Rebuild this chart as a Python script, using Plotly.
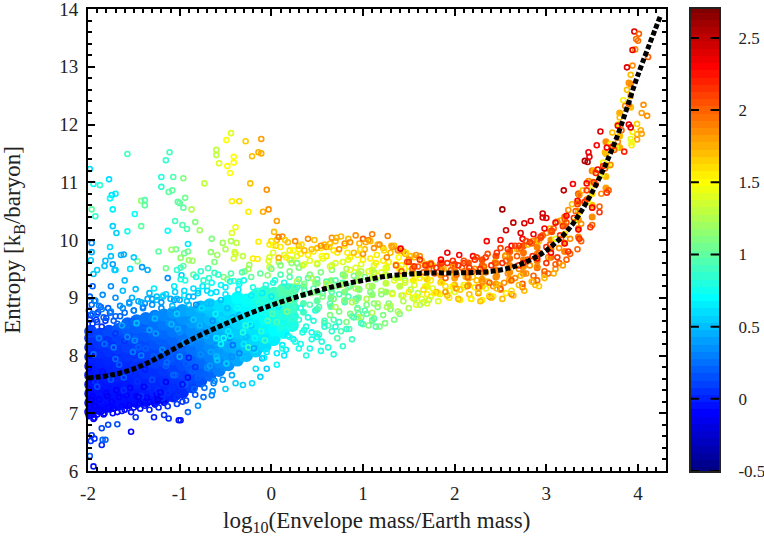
import numpy as np
import plotly.graph_objects as go

# mean profile
curve_x = [-2, -1.75, -1.5, -1.25, -1, -0.75, -0.5, -0.25, 0, 0.25, 0.5, 0.75, 1, 1.25, 1.5, 1.75, 2, 2.25,
           2.5, 2.75, 3, 3.25, 3.5, 3.75, 4, 4.25]
curve_y = [7.61, 7.66, 7.77, 7.95, 8.17, 8.37, 8.55, 8.72, 8.87, 9.0, 9.12, 9.22, 9.3, 9.37, 9.41, 9.43, 9.43,
           9.44, 9.48, 9.6, 9.82, 10.2, 10.83, 11.7, 12.86, 13.9]

x_ticks = [-2, -1, 0, 1, 2, 3, 4]
x_labels = ['-2', '-1', '0', '1', '2', '3', '4']
y_ticks = [6, 7, 8, 9, 10, 11, 12, 13, 14]
bar_ticks = [-0.5, 0, 0.5, 1, 1.5, 2, 2.5]
bar_labels = ['-0.5', '0', '0.5', '1', '1.5', '2', '2.5']

# dense part of the cloud, read column by column
core_x = [-1.97, -1.87, -1.77, -1.67, -1.57, -1.47, -1.37, -1.27, -1.17, -1.07, -0.97, -0.87, -0.77, -0.67,
          -0.57, -0.47, -0.37, -0.27, -0.17, -0.07, 0.03, 0.13, 0.23]
core_y = [
    [7.02, 7.18, 7.34, 7.5, 7.66, 7.82, 7.98, 8.14, 8.3, 8.42],
    [7.08, 7.25, 7.41, 7.57, 7.73, 7.89, 8.05, 8.21, 8.37],
    [7.12, 7.28, 7.44, 7.6, 7.76, 7.92, 8.08, 8.24, 8.42],
    [7.16, 7.33, 7.49, 7.65, 7.81, 7.97, 8.13, 8.29, 8.45],
    [7.18, 7.35, 7.51, 7.67, 7.83, 7.99, 8.15, 8.31, 8.47, 8.55],
    [7.2, 7.36, 7.52, 7.68, 7.84, 8.0, 8.16, 8.32, 8.48, 8.6],
    [7.22, 7.38, 7.54, 7.7, 7.86, 8.02, 8.18, 8.34, 8.5, 8.64],
    [7.23, 7.4, 7.56, 7.72, 7.88, 8.04, 8.2, 8.36, 8.52, 8.68],
    [7.26, 7.42, 7.58, 7.74, 7.9, 8.06, 8.22, 8.38, 8.54, 8.7],
    [7.3, 7.46, 7.62, 7.78, 7.94, 8.1, 8.26, 8.42, 8.58, 8.74],
    [7.36, 7.52, 7.68, 7.84, 8.0, 8.16, 8.32, 8.48, 8.64, 8.78],
    [7.46, 7.62, 7.78, 7.94, 8.1, 8.26, 8.42, 8.58, 8.74],
    [7.56, 7.72, 7.88, 8.04, 8.2, 8.36, 8.52, 8.68, 8.84],
    [7.66, 7.82, 7.98, 8.14, 8.3, 8.46, 8.62, 8.78, 8.88],
    [7.74, 7.9, 8.06, 8.22, 8.38, 8.54, 8.7, 8.86],
    [7.84, 8.0, 8.16, 8.32, 8.48, 8.64, 8.8, 8.94],
    [7.92, 8.08, 8.24, 8.4, 8.56, 8.72, 8.88, 9.0],
    [8.0, 8.16, 8.32, 8.48, 8.64, 8.8, 8.96],
    [8.08, 8.24, 8.4, 8.56, 8.72, 8.88, 9.04],
    [8.16, 8.32, 8.48, 8.64, 8.8, 8.96, 9.1],
    [8.28, 8.44, 8.6, 8.76, 8.92, 9.08],
    [8.4, 8.56, 8.72, 8.88, 9.04, 9.14],
    [8.52, 8.68, 8.84, 9.0, 9.14],
]
core_c = [
    [-0.08, -0.08, -0.06, -0.05, -0.03, -0.02, 0.0, 0.03, 0.06, 0.1],
    [-0.08, -0.06, -0.05, -0.03, -0.02, 0.0, 0.03, 0.06, 0.1],
    [-0.07, -0.06, -0.04, -0.02, 0.0, 0.02, 0.05, 0.08, 0.13],
    [-0.06, -0.05, -0.03, 0.0, 0.02, 0.04, 0.07, 0.1, 0.16],
    [-0.06, -0.04, -0.02, 0.0, 0.03, 0.06, 0.09, 0.13, 0.18, 0.22],
    [-0.05, -0.03, 0.0, 0.02, 0.05, 0.08, 0.11, 0.15, 0.2, 0.25],
    [-0.04, -0.02, 0.0, 0.04, 0.07, 0.1, 0.13, 0.17, 0.22, 0.27],
    [-0.03, 0.0, 0.02, 0.05, 0.09, 0.12, 0.16, 0.2, 0.25, 0.3],
    [-0.02, 0.01, 0.04, 0.07, 0.11, 0.15, 0.19, 0.23, 0.28, 0.33],
    [0.0, 0.03, 0.06, 0.1, 0.14, 0.18, 0.22, 0.27, 0.32, 0.37],
    [0.03, 0.06, 0.1, 0.14, 0.18, 0.22, 0.26, 0.31, 0.36, 0.41],
    [0.1, 0.13, 0.17, 0.21, 0.25, 0.29, 0.34, 0.39, 0.44],
    [0.15, 0.19, 0.23, 0.27, 0.31, 0.35, 0.4, 0.45, 0.5],
    [0.22, 0.26, 0.3, 0.34, 0.38, 0.42, 0.47, 0.52, 0.56],
    [0.3, 0.34, 0.38, 0.42, 0.46, 0.5, 0.55, 0.6],
    [0.36, 0.4, 0.44, 0.48, 0.52, 0.56, 0.6, 0.65],
    [0.42, 0.46, 0.5, 0.54, 0.58, 0.62, 0.66, 0.7],
    [0.48, 0.52, 0.56, 0.6, 0.64, 0.68, 0.72],
    [0.54, 0.58, 0.62, 0.66, 0.7, 0.74, 0.78],
    [0.6, 0.64, 0.68, 0.72, 0.76, 0.8, 0.85],
    [0.66, 0.7, 0.74, 0.78, 0.82, 0.88],
    [0.72, 0.76, 0.8, 0.85, 0.9, 0.95],
    [0.78, 0.82, 0.88, 0.93, 0.98],
]

# busy middle and right of the cloud
mid_x = [0.35, 0.5, 0.65, 0.8, 0.95, 1.1, 1.25, 1.4, 1.55, 1.7, 1.85, 2.0, 2.15, 2.3, 2.45, 2.6, 2.75, 2.9, 3.05, 3.2,
         3.35, 3.5, 3.65, 3.8, 3.92]
mid_y = [
    [8.75, 8.9, 9.05, 9.2], [8.8, 8.95, 9.1, 9.25], [8.85, 9.0, 9.15, 9.3], [8.95, 9.1, 9.25, 9.38],
    [9.0, 9.15, 9.3, 9.42], [9.05, 9.2, 9.35, 9.48], [9.1, 9.25, 9.4, 9.52], [9.2, 9.35, 9.5],
    [9.3, 9.42, 9.54], [9.2, 9.32, 9.44, 9.56], [9.27, 9.39, 9.51, 9.6], [9.22, 9.34, 9.46, 9.58],
    [9.22, 9.34, 9.46, 9.6], [9.2, 9.32, 9.44, 9.56, 9.66], [9.24, 9.36, 9.48, 9.6, 9.72],
    [9.32, 9.44, 9.56, 9.68, 9.8], [9.42, 9.54, 9.66, 9.78, 9.9], [9.52, 9.64, 9.76, 9.88, 10.0],
    [9.7, 9.85, 10.0, 10.15], [9.8, 9.95, 10.1, 10.25, 10.4], [10.05, 10.2, 10.35, 10.5, 10.65, 10.8],
    [10.4, 10.6, 10.8, 11.0, 11.2], [10.9, 11.1, 11.3, 11.5, 11.7], [11.6, 11.8, 12.0, 12.2], [12.3, 12.5, 12.7],
]
mid_c = [
    [0.9, 0.95, 1.0, 1.0], [0.95, 1.0, 1.05, 1.1], [1.0, 1.05, 1.1, 1.15], [1.05, 1.1, 1.15, 1.2],
    [1.1, 1.15, 1.2, 1.25], [1.15, 1.2, 1.3, 1.35], [1.2, 1.3, 1.35, 1.45], [1.3, 1.4, 1.55],
    [1.55, 1.7, 1.9], [1.55, 1.65, 1.85, 2.0], [1.7, 1.8, 2.0, 2.05], [1.7, 1.8, 1.95, 2.05],
    [1.75, 1.8, 1.95, 2.05], [1.75, 1.8, 1.9, 2.0, 2.05], [1.8, 1.85, 1.9, 1.95, 2.05],
    [1.85, 1.85, 1.9, 1.95, 2.05], [1.9, 1.85, 1.9, 1.95, 2.05], [1.95, 1.9, 1.85, 1.9, 2.0],
    [1.95, 1.9, 1.85, 1.95], [1.9, 1.8, 1.8, 1.9, 2.0], [1.9, 1.85, 1.8, 1.75, 1.9, 2.0],
    [1.85, 1.7, 1.6, 1.75, 1.9], [1.8, 1.7, 1.6, 1.7, 1.85], [1.75, 1.7, 1.6, 1.75], [1.7, 1.75, 1.85],
]

# rings seen inside the dense part, they give it its mottled look
speck_x = [-1.94, -1.84, -1.72, -1.61, -1.49, -1.38, -1.26, -1.14, -1.02, -0.9, -0.78, -0.66, -0.54, -0.42, -0.3, -0.18, -0.06, 0.06,
           -1.9, -1.79, -1.66, -1.54, -1.42, -1.3, -1.19, -1.07, -0.95, -0.83, -0.71, -0.59, -0.47, -0.35, -0.23, -0.11, 0.01,
           -1.96, -1.82, -1.69, -1.57, -1.45, -1.33, -1.21, -1.09, -0.97, -0.85, -0.73, -0.61, -0.49, -0.37, -0.25, -0.13, 0.11,
           -1.88, -1.75, -1.63, -1.51, -1.39, -1.27, -1.15, -1.03, -0.91, -0.79, -0.67, -0.55, -0.43, -0.31, -0.19, -0.07, 0.17,
           -1.92, -1.7, -1.47, -1.24, -1.0, -0.76, -0.52, -0.28, -0.04, 0.2]
speck_y = [8.02, 7.72, 8.14, 7.62, 8.26, 7.76, 8.38, 7.88, 8.46, 7.96, 8.52, 8.06, 8.62, 8.18, 8.72, 8.3, 8.82, 8.58,
           7.46, 7.3, 7.84, 7.44, 8.0, 7.58, 8.1, 7.66, 8.22, 7.8, 8.34, 7.92, 8.42, 8.04, 8.54, 8.42, 8.72,
           7.22, 8.2, 7.4, 8.32, 7.28, 8.44, 7.36, 8.54, 7.5, 8.62, 7.68, 8.72, 7.86, 8.82, 8.14, 8.9, 8.92,
           8.3, 7.58, 8.52, 8.06, 7.46, 8.64, 7.54, 8.72, 7.62, 8.14, 7.82, 8.2, 7.98, 8.4, 8.12, 8.26, 8.76,
           7.12, 7.94, 8.56, 7.24, 7.98, 8.82, 8.3, 8.52, 8.6, 8.96]
speck_c = [0.25, -0.05, 0.3, 0.2, 0.35, -0.02, 0.4, 0.25, 0.45, 0.0, 0.5, 0.42, 0.6, 0.25, 0.65, 0.7, 0.75, 0.95,
           0.15, -0.15, 0.2, -0.1, 0.3, 0.15, 0.35, 0.22, 0.4, 0.05, 0.45, 0.55, 0.65, 0.3, 0.7, 0.85, 0.95,
           -0.18, 0.25, -0.12, 0.35, -0.15, 0.4, -0.1, 0.48, -0.05, 0.55, 0.2, 0.68, 0.55, 0.72, 0.85, 0.85, 1.05,
           0.28, 0.18, 0.42, 0.3, -0.12, 0.48, -0.12, 0.55, -0.08, 0.3, 0.4, 0.72, 0.35, 0.8, 0.4, 0.9, 1.1,
           -0.15, 0.25, 0.5, -0.18, 0.4, 0.62, 0.75, 0.85, 0.95, 1.1]

# sparse points read one at a time
single_x = [-1.57, -1.11, -1.15, -0.44, -0.49, -0.28, -0.11, -0.14, -0.11, -0.21, -0.6, -0.6, -0.41, -0.41, -0.57,
            -0.48, -0.45, -0.23, -0.05, -0.73, -0.96, -1.07, -1.2, -1.2, -1.12, -1.08, -0.94, -1.02, -1.0, -0.96,
            -0.87, -1.42, -1.38, -1.38, -0.43, -0.35, -0.25, -0.09, -0.03, 0.06, -1.49, -1.73, -1.96, -1.92, -1.98,
            -1.94, -1.87, -1.77, -1.7, -1.74, -1.76, -1.73, -1.69, -1.57, -1.42, -1.13, -1.05, -0.97, -0.92, -0.83,
            -0.78, -0.39, -0.43, -0.65, -0.44, -0.38, -0.53, -0.14, 0.0, 0.02, 0.05, 0.03, 0.08, -0.91, -1.04, -1.09,
            -1.23, -0.91, -0.95, -0.99, -0.9, -0.86, -0.66, -0.59, -0.62, -0.5, -0.4, -0.39, -0.41, -0.31, -0.2,
            -0.15, -0.02, -0.03, -0.02, 0.08, -0.24, -0.25, -0.29, -1.46, -1.5, -1.61, -1.64, -1.75, -1.76, -1.81,
            -1.82, -1.73, -1.96, -1.96, -1.97, -1.94, -1.9, -1.71, -1.7, -1.54, -1.41, -1.35, -1.15, -1.03, -0.99,
            -0.96, -0.85, -0.77, -0.69, -0.62, -1.13, -0.98, -0.99, -0.74, -0.7, -0.52, -0.48, -0.41, -0.04,
            -1.53, -1.85, -1.84, -1.81, -1.94, -1.98, -1.93, -1.97, -1.96, -1.01, -0.99, -1.12, -1.17, -1.28, -1.48,
            -1.68, -1.78, -1.85, -0.91, -0.8, -0.74, -0.65, -0.64, -0.5, -0.39, -0.31, -0.21, -0.12, -0.05, -0.17, 0.06,
            2.52, 2.64, 2.76, 2.83, 2.56, 2.72, 2.96, 2.96, 3.0, 3.19, 3.29, 3.42, 3.45, 3.46, 3.47, 3.59, 3.55, 3.88,
            3.96, 4.01, 3.94, 3.98, 4.0, 4.11, 4.06, 4.04, 4.1, 3.99, 4.03, 4.04, 3.99, 3.99, 3.94, 3.92, 3.93, 3.93,
            3.85, 3.9, 3.92, 1.41, 1.92, 1.1, 1.0, 1.27,
            # extra fuzz over and under the dense part
            -1.98, -1.95, -1.9, -1.85, -1.8, -1.75, -1.7, -1.65, -1.6, -1.55, -1.5, -1.45, -1.4, -1.35, -1.3, -1.25, -1.2,
            -1.15, -1.1, -1.05, -1.0, -0.95, -0.9, -0.85, -0.8, -0.75, -0.7, -0.65, -0.6, -0.55, -0.5, -0.45, -0.35, -0.3,
            -1.93, -1.83, -1.73, -1.63, -1.53, -1.43, -1.33, -1.23, -1.13, -1.03, -0.93, -0.83, -0.73, -0.63, -0.53, -0.43,
            -1.88, -1.62, -1.52, -1.42, -1.28, -1.18, -1.06, -0.94, -0.82, -0.68, -0.58, -0.44, -0.32, -0.22, -0.12, 0.0, 0.1, 0.22,
            0.3, 0.38, 0.44, 0.5, 0.58, 0.66, 0.74, 0.82, 0.9, 0.98, 1.04, 1.12, 0.32, 0.42, 0.54, 0.68, 0.78, 0.88,
            0.15, 0.24, 0.33, 0.47, 0.55, 0.63, 0.71, 0.83, 0.97, 1.03, 1.15, 1.23, 1.31, 1.39, 1.47,
            1.5, 1.58, 1.66, 1.78, 1.9, 2.06, 2.18, 2.26, 2.38, 2.46, 2.62, 2.7, 2.84, 2.92, 2.98, 3.08, 3.18,
            2.1, 2.24, 2.36, 2.5, 2.66, 2.78, 2.94, 3.06, 3.22, 3.34, 3.44, 3.54]
single_y = [11.49, 11.52, 11.38, 11.85, 11.73, 11.71, 11.75, 11.52, 11.5, 11.45, 11.56, 11.47, 11.44, 11.34, 11.33,
            11.28, 11.16, 10.98, 10.87, 10.98, 11.07, 11.09, 11.09, 10.92, 10.83, 10.86, 10.73, 10.66, 10.64, 10.56,
            10.53, 10.68, 10.69, 10.6, 10.67, 10.67, 10.49, 10.49, 10.53, 10.33, 10.45, 10.53, 10.53, 10.41, 11.23,
            10.97, 10.95, 11.05, 10.8, 10.78, 10.72, 10.24, 10.12, 10.15, 10.24, 10.16, 10.33, 10.26, 10.19, 10.31,
            10.17, 10.22, 10.12, 10.02, 9.98, 9.95, 9.95, 9.97, 9.98, 9.91, 9.9, 10.14, 10.05, 9.93, 9.84, 9.83,
            9.8, 9.8, 9.77, 9.69, 9.65, 9.64, 9.79, 9.74, 9.62, 9.84, 9.79, 9.76, 9.68, 9.72, 9.68,
            9.67, 9.7, 9.64, 9.53, 9.69, 9.57, 9.5, 9.46, 9.63, 9.7, 9.75, 9.74, 9.72, 9.88, 9.64,
            9.55, 9.58, 9.95, 9.79, 9.65, 9.41, 9.48, 9.48, 9.48, 9.5, 9.53, 9.48, 9.51, 9.48, 9.52,
            9.55, 9.4, 9.46, 9.51, 9.43, 9.34, 9.39, 9.32, 9.3, 9.2, 9.36, 9.32, 9.29, 9.39,
            6.68, 6.45, 6.54, 6.54, 6.08, 6.26, 6.56, 6.52, 6.62, 6.88, 6.88, 6.91, 6.97, 6.93, 6.93,
            6.81, 6.8, 6.74, 7.02, 7.13, 7.28, 7.31, 7.38, 7.42, 7.52, 7.49, 7.52, 7.63, 7.77, 7.77, 7.84,
            10.53, 10.3, 10.29, 10.33, 10.17, 10.12, 10.46, 10.39, 10.38, 10.86, 10.97, 11.37, 11.35, 11.52, 11.44, 11.88, 11.64, 12.99,
            13.61, 13.57, 13.29, 13.48, 13.45, 13.17, 12.34, 12.2, 12.15, 12.01, 11.9, 11.84, 11.83, 11.74, 11.87, 11.75, 11.69, 11.64,
            11.53, 12.0, 11.95, 9.85, 9.78, 10.1, 10.02, 10.07,
            8.62, 8.72, 8.58, 8.8, 8.65, 8.76, 8.68, 8.86, 8.74, 8.9, 8.78, 8.94, 8.84, 8.98, 8.88, 9.02, 8.92,
            9.06, 8.98, 9.1, 8.96, 9.12, 9.02, 9.16, 9.08, 9.2, 9.12, 9.26, 9.1, 9.22, 9.18, 9.28, 9.24, 9.3,
            6.92, 6.98, 7.0, 7.04, 7.02, 7.08, 7.06, 7.1, 7.12, 7.16, 7.22, 7.32, 7.44, 7.52, 7.58, 7.66,
            8.86, 9.12, 9.0, 8.92, 9.16, 9.04, 9.2, 9.3, 9.36, 9.34, 9.4, 9.42, 9.44, 9.36, 9.42, 9.5, 9.56, 9.6,
            8.62, 8.5, 8.4, 8.32, 8.5, 8.42, 8.58, 8.46, 8.66, 8.56, 8.72, 8.64, 8.2, 8.12, 8.08, 8.02, 8.16, 8.28,
            10.0, 9.82, 9.92, 10.0, 9.72, 9.88, 10.04, 9.78, 9.84, 9.96, 9.74, 9.82, 9.9, 9.7, 9.78,
            9.1, 9.02, 9.14, 9.08, 9.2, 9.14, 8.98, 9.1, 9.04, 9.16, 9.12, 9.22, 9.28, 9.2, 9.34, 9.42, 9.56,
            9.64, 9.7, 9.76, 9.86, 9.9, 9.98, 10.04, 10.14, 10.3, 10.62, 10.86, 11.16]
single_c = [0.9, 0.9, 0.85, 1.4, 1.5, 1.65, 1.8, 1.75, 1.75, 1.7, 1.3, 1.3, 1.5, 1.5, 1.4,
            1.5, 1.5, 1.7, 1.85, 1.3, 1.1, 0.95, 0.8, 0.85, 1.0, 1.0, 1.05, 1.0, 1.0, 1.0,
            1.25, 1.15, 0.95, 1.0, 1.55, 1.6, 1.55, 1.75, 1.85, 1.8, 0.7, 0.65, 1.0, 0.85, 0.6,
            0.7, 0.85, 0.6, 0.65, 0.6, 0.7, 0.55, 0.55, 0.75, 1.0, 0.7, 0.9, 0.95, 0.95, 1.1,
            1.2, 1.45, 1.4, 1.1, 1.25, 1.3, 1.2, 1.55, 1.6, 1.5, 1.6, 1.7, 1.9, 0.65, 1.05, 1.2,
            1.0, 1.05, 1.05, 1.15, 1.2, 1.2, 1.15, 1.2, 1.1, 1.25, 1.35, 1.35, 1.35, 1.3, 1.55,
            1.55, 1.4, 1.4, 1.35, 1.75, 1.2, 1.2, 1.1, 1.1, 0.55, 0.45, 0.45, 0.5, 0.6, 0.5,
            0.5, 0.4, 0.35, 0.45, 0.55, 0.5, 0.55, 0.55, 0.55, 0.6, 0.4, 0.45, 1.05, 0.85, 0.85,
            1.0, 1.0, 0.85, 0.9, 0.9, 0.35, 0.55, 0.8, 0.85, 0.9, 1.1, 1.1, 0.9, 1.15,
            -0.1, 0.0, 0.2, 0.2, -0.05, 0.15, 0.05, 0.05, 0.05, -0.05, -0.05, 0.05, 0.05, 0.0, 0.05,
            0.15, 0.1, 0.1, 0.2, 0.35, 0.25, 0.3, 0.35, 0.55, 0.55, 0.55, 0.6, 0.55, 0.55, 0.6, 0.7,
            2.6, 2.5, 2.4, 2.4, 2.45, 2.4, 2.45, 2.4, 2.4, 2.5, 2.3, 2.55, 2.55, 2.35, 2.35, 2.4, 2.3, 2.4,
            2.4, 2.0, 2.35, 1.95, 1.95, 2.0, 1.85, 1.8, 1.85, 1.65, 1.75, 1.8, 1.75, 1.8, 1.55, 1.4, 1.45, 1.55,
            2.2, 2.35, 2.4, 2.35, 2.35, 1.9, 2.0, 1.9,
            0.1, 0.25, 0.12, 0.3, 0.15, 0.3, 0.2, 0.35, 0.25, 0.4, 0.3, 0.42, 0.3, 0.45, 0.35, 0.5, 0.4,
            0.55, 0.45, 0.55, 0.45, 0.6, 0.5, 0.6, 0.55, 0.65, 0.6, 0.7, 0.6, 0.7, 0.65, 0.75, 0.72, 0.75,
            -0.1, -0.08, -0.08, -0.05, -0.05, -0.03, 0.0, 0.0, 0.05, 0.08, 0.12, 0.15, 0.25, 0.3, 0.38, 0.45,
            0.3, 0.5, 0.45, 0.45, 0.65, 0.6, 0.65, 0.8, 0.75, 0.85, 0.85, 0.95, 0.95, 1.0, 1.0, 1.05, 1.1, 1.15,
            0.85, 0.8, 0.75, 0.75, 0.85, 0.85, 0.9, 0.85, 0.95, 0.9, 1.0, 0.95, 0.75, 0.75, 0.8, 0.8, 0.85, 0.9,
            1.65, 1.5, 1.6, 1.7, 1.5, 1.65, 1.75, 1.55, 1.6, 1.75, 1.55, 1.6, 1.75, 1.5, 1.6,
            1.55, 1.5, 1.6, 1.55, 1.6, 1.65, 1.55, 1.65, 1.6, 1.7, 1.6, 1.7, 1.7, 1.65, 1.7, 1.75, 1.8,
            2.05, 2.1, 2.05, 2.1, 2.1, 2.1, 2.1, 2.05, 2.05, 2.1, 2.1, 2.2]

# cloud rings, grouped by colour value
band_levels = [-0.1, 0.05, 0.2, 0.35, 0.5, 0.65, 0.8, 0.95, 1.1, 1.25, 1.4, 1.55, 1.7, 1.85, 2.0, 2.15, 2.3]
band_x = [
    [-1.99, -1.98, -1.97, -1.99, -1.96, -1.99, -1.98, -1.94, -1.9, -1.86, -1.82, -1.78, -1.72, -1.68, -1.63, -1.6, -1.55,
     -1.5, -1.44, -1.38, -1.33, -1.27, -1.22, -1.17, -1.95, -1.88, -1.8, -1.74, -1.66, -1.58, -1.47, -1.36, -1.25],
    [-1.99, -1.98, -1.95, -1.91, -1.85, -1.79, -1.73, -1.64, -1.56, -1.46, -1.35, -1.24, -1.13, -1.03, -1.97, -1.89, -1.81,
     -1.7, -1.6, -1.5, -1.41, -1.29, -1.18, -1.08, -1.92, -1.76, -1.61, -1.42, -1.19, -0.97],
    [-1.99, -1.96, -1.9, -1.83, -1.76, -1.68, -1.59, -1.48, -1.37, -1.28, -1.15, -1.05, -0.94, -0.84, -1.98, -1.93, -1.86,
     -1.78, -1.65, -1.52, -1.39, -1.23, -1.09, -0.93, -0.8, -1.95, -1.72, -1.45, -1.1, -0.86],
    [-1.92, -1.84, -1.75, -1.62, -1.5, -1.38, -1.26, -1.12, -1.0, -0.88, -0.77, -0.7, -0.62, -1.7, -1.55, -1.4, -1.2, -1.04,
     -0.9, -0.75, -0.6, -0.52, -1.3, -1.06, -0.82, -0.64, -0.46],
    [-1.6, -1.48, -1.33, -1.18, -1.03, -0.9, -0.76, -0.63, -0.51, -0.4, -0.31, -1.25, -1.08, -0.92, -0.7, -0.55, -0.42, -0.28,
     -0.18, -0.1, -0.85, -0.66, -0.48, -0.35, -0.22, -0.6],
    [-0.95, -0.8, -0.66, -0.5, -0.36, -0.22, -0.1, 0.0, 0.08, -0.42, -0.28, -0.12, 0.02, 0.12, 0.18, -0.6, -0.45, -0.3, -0.18,
     -0.05, 0.06, 0.16, 0.24, -0.08, 0.14],
    [-0.35, -0.2, -0.06, 0.04, 0.14, 0.24, 0.32, 0.4, 0.1, 0.2, 0.3, 0.36, 0.46, 0.52, -0.15, 0.02, 0.18, 0.28, 0.34, 0.44, 0.55,
     0.62, 0.48, 0.58, 0.12, 0.26, 0.38, 0.7],
    [0.1, 0.2, 0.3, 0.4, 0.5, 0.6, 0.7, 0.78, 0.86, 0.16, 0.26, 0.36, 0.46, 0.56, 0.66, 0.74, 0.84, 0.92, 0.42, 0.52, 0.64, 0.8,
     0.94, 1.02, 0.58, 0.68, 0.88, 0.76, 1.0, 1.1, 1.14, 0.95, 0.72, 0.85, 0.5, 0.62],
    [0.2, 0.3, 0.42, 0.54, 0.66, 0.78, 0.9, 1.02, 1.14, 0.36, 0.48, 0.6, 0.72, 0.84, 0.96, 1.08, 1.2, 0.28, 0.44, 0.56, 0.68, 0.8, 0.92,
     1.04, 1.16, 1.28, 0.74, 0.86, 0.98, 1.1, 1.22, 1.3, 1.06, 1.18, 1.34, 1.4, 0.64, 0.82, 0.94, 1.12, 1.24],
    [0.08, 0.2, 0.34, 0.5, 0.66, 0.82, 0.98, 1.12, 1.26, 1.36, 1.46, 0.28, 0.44, 0.6, 0.76, 0.92, 1.06, 1.2, 1.32, 1.42, 1.52, 1.6, 0.7,
     0.88, 1.04, 1.16, 1.3, 1.44, 1.56, 1.66, 1.26, 1.38, 1.5, 1.62, 1.72, 0.95, 1.1],
    [0.02, 0.14, 0.28, 0.42, 0.56, 0.7, 0.84, 0.98, 1.12, 1.26, 1.4, 1.5, 1.6, 0.22, 0.36, 0.5, 0.64, 0.78, 0.92, 1.06, 1.2, 1.34, 1.46, 1.56,
     1.68, 1.76, 1.32, 1.44, 1.54, 1.64, 1.74, 1.84, 1.94, 1.58, 1.7, 1.82, 2.0, 2.1, 0.6, 0.86, 1.16, 3.1, 3.3, 3.45, 3.6, 3.68, 3.76],
    [-0.02, 0.1, 0.2, 0.32, 0.46, 0.6, 0.72, 0.86, 1.0, 1.14, 1.28, 1.42, 1.54, 1.66, 0.16, 0.3, 0.4, 0.54, 0.68, 0.8, 0.94, 1.08, 1.22, 1.36, 1.5,
     1.62, 1.74, 1.86, 1.98, 2.1, 2.22, 2.34, 1.7, 1.82, 1.94, 2.06, 2.18, 2.3, 2.42, 2.56, 3.2, 3.36, 3.5, 3.62, 3.7, 3.78, 3.84, 3.58, 3.46],
    [0.06, 0.18, 0.3, 0.44, 0.58, 0.7, 0.84, 0.96, 1.08, 1.22, 1.34, 1.46, 1.56, 0.36, 0.5, 0.64, 0.76, 0.9, 1.02, 1.16, 1.3, 1.4, 1.52, 1.64, 1.76, 1.88,
     2.0, 2.12, 2.24, 2.36, 2.48, 2.6, 2.72, 1.8, 1.92, 2.04, 2.16, 2.28, 2.4, 2.52, 2.64, 2.76, 2.88, 2.2, 2.32, 2.44, 2.56, 2.68, 2.8, 2.92,
     3.04, 3.16, 3.28, 3.4, 3.52, 3.64, 3.72, 3.8, 3.88, 3.92],
    [0.12, 0.26, 0.4, 0.54, 0.66, 0.8, 0.92, 1.06, 1.18, 1.32, 1.44, 1.58, 1.7, 0.6, 0.74, 0.86, 1.0, 1.12, 1.26, 1.38, 1.5, 1.62, 1.74, 1.86, 1.98,
     2.1, 2.22, 2.34, 2.46, 2.58, 2.7, 2.82, 1.9, 2.02, 2.14, 2.26, 2.38, 2.5, 2.62, 2.74, 2.86, 2.98, 3.1, 2.3, 2.42, 2.54, 2.66, 2.78, 2.9, 3.02,
     3.14, 3.26, 3.38, 3.5, 3.6, 3.7, 3.78, 3.86, 3.9, 3.94, 3.97, 2.55, 2.7, 2.85, 3.0, 3.12, 3.24, 3.36, 3.46],
    [1.36, 1.48, 1.6, 1.72, 1.84, 1.96, 2.08, 2.2, 2.32, 2.44, 2.56, 2.68, 2.8, 2.92, 3.04, 3.16, 1.42, 1.54, 1.66, 1.78, 1.9, 2.02, 2.14, 2.26, 2.38, 2.5,
     2.62, 2.74, 2.86, 2.98, 3.1, 3.22, 3.34, 2.6, 2.72, 2.84, 2.96, 3.08, 3.2, 3.32, 3.44, 3.54, 3.64, 3.74, 3.82, 3.9, 2.9, 3.02, 3.14, 3.26, 3.38, 3.5, 3.58, 3.68],
    [1.5, 1.62, 1.74, 1.86, 1.98, 2.1, 2.22, 2.34, 2.46, 2.58, 2.7, 2.82, 2.94, 3.06, 3.18, 1.56, 1.68, 1.8, 1.92, 2.04, 2.16, 2.28, 2.4, 2.52, 3.0, 3.12, 3.24,
     3.36, 3.48, 3.58, 3.66, 2.7, 2.85, 3.0, 3.15, 3.3, 3.42, 3.52, 3.62, 3.72],
    [2.35, 2.5, 2.62, 2.74, 2.86, 2.98, 3.1, 3.22, 3.34, 3.44, 3.56, 3.66, 3.78, 2.75, 2.9, 3.05, 3.2, 3.35, 3.5, 1.85, 2.05, 2.2],
]
band_y = [
    [6.95, 7.1, 7.25, 7.42, 7.6, 7.78, 8.0, 6.9, 6.98, 7.05, 7.0, 7.1, 7.08, 7.02, 7.12, 7.06, 7.14, 7.1, 7.17, 7.13, 7.2, 7.15, 7.22,
     7.18, 7.3, 7.24, 7.35, 7.2, 7.28, 7.31, 7.3, 7.27, 7.33],
    [8.2, 8.4, 8.55, 8.62, 8.5, 8.28, 8.18, 7.92, 7.72, 7.55, 7.46, 7.4, 7.35, 7.28, 8.7, 8.75, 8.6, 8.38, 8.25, 8.0, 7.85, 7.65, 7.52, 7.44, 7.55, 7.62,
     7.4, 7.3, 7.26, 7.2],
    [8.78, 8.88, 8.72, 8.66, 8.74, 8.55, 8.42, 8.3, 8.12, 7.98, 7.82, 7.66, 7.5, 7.42, 9.02, 8.95, 8.84, 8.82, 8.68, 8.6, 8.48, 8.25, 8.08, 7.86, 7.62, 9.2,
     8.6, 8.14, 7.94, 7.72],
    [8.95, 9.05, 9.2, 8.82, 8.78, 8.9, 8.7, 8.56, 8.4, 8.24, 8.02, 7.78, 7.56, 9.0, 8.92, 8.82, 8.82, 8.78, 8.62, 8.4, 8.18, 7.78, 8.98, 8.96, 8.88, 8.6, 8.3],
    [9.3, 9.15, 9.08, 9.02, 8.98, 8.88, 8.82, 8.74, 8.5, 8.2, 7.95, 8.96, 8.86, 8.94, 8.9, 8.96, 8.66, 8.32, 8.12, 7.95, 9.02, 8.9, 8.82, 8.7, 8.52, 7.98],
    [9.04, 9.12, 9.08, 9.06, 9.14, 9.04, 9.08, 9.02, 8.85, 8.62, 8.48, 8.3, 8.22, 8.18, 8.34, 8.3, 8.34, 8.2, 8.1, 8.06, 8.04, 8.1, 8.28, 7.96, 8.0],
    [9.28, 9.18, 9.22, 9.3, 9.26, 8.98, 8.82, 8.66, 8.48, 8.32, 8.12, 8.44, 8.6, 8.36, 9.12, 9.26, 9.2, 9.18, 8.4, 8.28, 8.24, 8.14, 8.78, 8.56, 8.12, 8.24, 8.0, 8.5],
    [9.4, 9.36, 9.32, 9.34, 9.32, 9.28, 9.3, 9.26, 9.2, 9.1, 9.12, 9.14, 9.16, 9.08, 9.1, 9.06, 9.02, 8.98, 8.88, 8.84, 8.9, 8.92, 8.82, 8.78, 8.6, 8.62, 8.68, 8.42, 8.54,
     8.6, 8.5, 8.72, 8.3, 8.46, 8.38, 8.52],
    [9.46, 9.52, 9.4, 9.44, 9.48, 9.4, 9.38, 9.36, 9.32, 9.24, 9.26, 9.22, 9.2, 9.18, 9.14, 9.1, 9.06, 9.6, 9.08, 9.02, 8.98, 8.96, 8.94, 8.88, 8.84, 8.9, 8.76, 8.72, 8.66, 8.62,
     8.7, 8.8, 8.52, 8.5, 8.62, 8.72, 8.7, 8.58, 8.8, 8.9, 8.56],
    [9.62, 9.66, 9.56, 9.58, 9.56, 9.5, 9.46, 9.44, 9.38, 9.34, 9.3, 9.28, 9.34, 9.24, 9.22, 9.16, 9.2, 9.12, 9.08, 9.04, 9.14, 9.08, 8.84, 8.92, 8.98, 8.9, 8.86, 8.94, 8.98, 8.92,
     8.84, 8.76, 8.82, 8.88, 8.96, 8.66, 8.74],
    [9.78, 9.74, 9.72, 9.64, 9.68, 9.6, 9.66, 9.58, 9.56, 9.52, 9.5, 9.46, 9.4, 9.66, 9.58, 9.6, 9.54, 9.62, 9.52, 9.46, 9.44, 9.3, 9.26, 9.22, 9.2, 9.16, 9.06, 9.04, 9.0, 8.98, 9.02,
     9.06, 9.12, 8.88, 8.9, 8.94, 9.1, 9.18, 9.72, 9.48, 9.38, 10.02, 10.32, 10.66, 11.12, 11.28, 11.6],
    [9.92, 9.88, 9.82, 9.76, 9.8, 9.72, 9.78, 9.7, 9.66, 9.6, 9.62, 9.56, 9.5, 9.38, 9.7, 9.84, 9.74, 9.86, 9.82, 9.9, 9.74, 9.68, 9.64, 9.58, 9.54, 9.34, 9.3, 9.26, 9.2, 9.22, 9.18,
     9.16, 9.06, 9.08, 9.0, 8.96, 8.98, 8.96, 9.02, 9.08, 10.1, 10.48, 10.94, 11.34, 11.66, 12.0, 12.42, 11.1, 10.72],
    [10.0, 9.96, 9.9, 9.84, 9.92, 9.98, 10.02, 9.94, 9.98, 9.86, 9.9, 9.76, 9.7, 9.82, 9.86, 9.94, 10.06, 9.78, 9.84, 9.92, 9.78, 9.82, 9.72, 9.64, 9.56, 9.5, 9.42, 9.36, 9.3, 9.28, 9.22,
     9.3, 9.38, 9.1, 9.04, 8.98, 9.06, 8.94, 9.0, 8.98, 9.04, 9.12, 9.22, 9.36, 9.5, 9.62, 9.74, 9.84, 9.92, 9.98, 10.2, 10.34, 10.62, 10.86, 11.2, 11.52, 11.86, 12.12, 12.6, 12.86],
    [10.06, 9.98, 10.02, 9.9, 10.04, 9.94, 10.08, 10.0, 9.92, 9.88, 9.8, 9.74, 9.58, 9.88, 9.84, 9.96, 9.76, 9.86, 9.7, 9.82, 9.66, 9.72, 9.6, 9.48, 9.54, 9.46, 9.5, 9.44, 9.38, 9.42, 9.5, 9.56,
     9.1, 9.16, 9.2, 9.08, 9.02, 9.14, 9.06, 9.18, 9.28, 9.4, 9.5, 9.28, 9.2, 9.26, 9.34, 9.42, 9.54, 9.7, 9.86, 10.02, 10.28, 10.56, 10.8, 11.3, 11.7, 12.32, 12.72, 13.02, 13.3, 9.72, 9.84, 9.98, 10.12,
     10.32, 10.52, 10.78, 11.02],
    [9.56, 9.62, 9.54, 9.5, 9.58, 9.48, 9.52, 9.46, 9.54, 9.6, 9.64, 9.72, 9.66, 9.78, 9.92, 10.02, 9.46, 9.5, 9.44, 9.42, 9.34, 9.4, 9.36, 9.18, 9.26, 9.16, 9.3, 9.24, 9.38, 9.46, 9.58, 9.66, 9.84,
     9.8, 9.86, 9.94, 10.08, 10.2, 10.36, 10.5, 10.7, 10.96, 11.24, 11.56, 11.9, 12.36, 9.3, 9.42, 9.6, 9.76, 9.98, 10.26, 10.58, 10.86],
    [9.62, 9.66, 9.58, 9.6, 9.64, 9.6, 9.66, 9.7, 9.78, 9.84, 9.9, 9.96, 10.06, 10.16, 10.24, 9.54, 9.56, 9.52, 9.6, 9.56, 9.52, 9.5, 9.56, 9.6, 9.6, 9.7, 9.8, 10.02, 10.22, 10.48, 10.82, 9.56, 9.72, 9.88,
     10.08, 10.38, 10.66, 11.0, 11.28, 11.62],
    [9.98, 10.0, 9.9, 10.02, 10.1, 10.2, 10.3, 10.42, 10.68, 10.98, 11.22, 11.6, 11.98, 9.6, 9.68, 9.78, 9.94, 10.18, 10.56, 9.66, 9.74, 9.72],
]


def flatten_columns(col_x, col_y, col_c):
    out_x, out_y, out_c = [], [], []
    for x_val, ys, cs in zip(col_x, col_y, col_c):
        out_x += [x_val] * len(ys)
        out_y += ys
        out_c += cs
    return out_x, out_y, out_c


flat_core_x, flat_core_y, flat_core_c = flatten_columns(core_x, core_y, core_c)
flat_mid_x, flat_mid_y, flat_mid_c = flatten_columns(mid_x, mid_y, mid_c)

ring_x, ring_y, ring_c = [], [], []
for level, xs, ys in zip(band_levels, band_x, band_y):
    n = min(len(xs), len(ys))
    ring_x += xs[:n]
    ring_y += ys[:n]
    ring_c += [level] * n
n_single = min(len(single_x), len(single_y), len(single_c))
ring_x += single_x[:n_single]
ring_y += single_y[:n_single]
ring_c += single_c[:n_single]
n_speck = min(len(speck_x), len(speck_y), len(speck_c))
ring_x += speck_x[:n_speck]
ring_y += speck_y[:n_speck]
ring_c += speck_c[:n_speck]

c_min, c_max = -0.5, 2.7
jet = [[0, '#000080'], [0.125, '#0000ff'], [0.375, '#00ffff'], [0.5, '#80ff80'], [0.625, '#ffff00'],
       [0.875, '#ff0000'], [1, '#800000']]
font = 'Liberation Serif'
W, H = 764, 536
# frame of the main plot, in pixels
left, right, top, bottom = 88, 665.5, 9, 471
bar_left, bar_right = 690.5, 719
plot_w = bar_right - left

fig = go.Figure()
fig.add_trace(go.Scatter(x=flat_core_x, y=flat_core_y, mode='markers', cliponaxis=False, showlegend=False,
                         marker=dict(size=13, color=flat_core_c, colorscale=jet, cmin=c_min, cmax=c_max, line_width=0)))
fig.add_trace(go.Scatter(x=flat_mid_x, y=flat_mid_y, mode='markers', cliponaxis=False, showlegend=False,
                         marker=dict(size=7, color=flat_mid_c, colorscale=jet, cmin=c_min, cmax=c_max, line_width=0)))
fig.add_trace(go.Scatter(x=ring_x, y=ring_y, mode='markers', cliponaxis=False, showlegend=False,
                         marker=dict(symbol='circle-open', size=5, color=ring_c, colorscale=jet, cmin=c_min, cmax=c_max,
                                     line_width=1.6)))
fig.add_trace(go.Scatter(x=curve_x, y=curve_y, mode='lines', showlegend=False,
                         line=dict(color='black', width=5, dash='5px,2.4px', shape='spline')))

# colour bar as its own small axes, it has ticks on both sides
levels = np.linspace(c_min, c_max, 65)
fig.add_trace(go.Heatmap(x=[0, 1], y=levels, z=[[v, v] for v in levels], colorscale=jet, zmin=c_min, zmax=c_max,
                         showscale=False, xaxis='x2', yaxis='y2', hoverinfo='skip'))
# axis ticks end up under the heatmap, so draw them as markers on both edges
for edge in [0, 1]:
    fig.add_trace(go.Scatter(x=[edge] * len(bar_ticks), y=bar_ticks, xaxis='x2', yaxis='y2', mode='markers', showlegend=False,
                             marker=dict(symbol='line-ew', size=12, color='black', line=dict(color='black', width=2))))

tick_font = dict(family=font, size=19, color='#222222')
fig.update_layout(
    width=W, height=H, margin=dict(l=left, r=W - bar_right, t=top, b=H - bottom, autoexpand=False),
    paper_bgcolor='white', plot_bgcolor='white', font=dict(family=font, size=19, color='#222222'),
    xaxis=dict(domain=[0, (right - left) / plot_w], range=[-2, 4.3], tickmode='array', tickvals=x_ticks, ticktext=x_labels,
               ticks='inside', ticklen=7, tickwidth=2, tickcolor='black', ticklabelstandoff=4, ticklabeloverflow='allow',
               mirror='allticks', showline=True, linewidth=2, linecolor='black', showgrid=False, zeroline=False,
               tickfont=tick_font, automargin=False, layer='above traces',
               minor=dict(dtick=0.1, tick0=0, ticks='inside', ticklen=4, tickwidth=2, tickcolor='black'),
               title=dict(text='log<sub>10</sub>(Envelope mass/Earth mass)', font=dict(size=23))),
    yaxis=dict(range=[6, 14], tickmode='array', tickvals=y_ticks, ticks='inside', ticklen=7, tickwidth=2, tickcolor='black',
               ticklabelstandoff=4, ticklabeloverflow='allow', mirror='allticks', showline=True, linewidth=2, linecolor='black',
               showgrid=False, zeroline=False, tickfont=tick_font, automargin=False, layer='above traces',
               minor=dict(dtick=0.2, tick0=6, ticks='inside', ticklen=4, tickwidth=2, tickcolor='black'),
               title=dict(text='Entropy [k<sub>B</sub>/baryon]', font=dict(size=23), standoff=34)),
    xaxis2=dict(domain=[(bar_left - left) / plot_w, 1], range=[0, 1], anchor='y2', showticklabels=False, ticks='', showgrid=False,
                zeroline=False, showline=True, linewidth=2, linecolor='#222222', mirror=True, automargin=False),
    yaxis2=dict(range=[c_min, c_max], anchor='x2', side='right', tickmode='array', tickvals=bar_ticks, ticktext=bar_labels,
                ticks='', ticklabelstandoff=14, ticklabeloverflow='allow', layer='above traces', showline=True, linewidth=2,
                linecolor='#222222', mirror=True, showgrid=False, zeroline=False, automargin=False,
                tickfont=dict(family=font, size=17, color='#222222')),
)

# the page's default body margin would push the figure off its frame
fig.write_html('out.html', config={'displayModeBar': False}, post_script="document.body.style.margin='0'")
